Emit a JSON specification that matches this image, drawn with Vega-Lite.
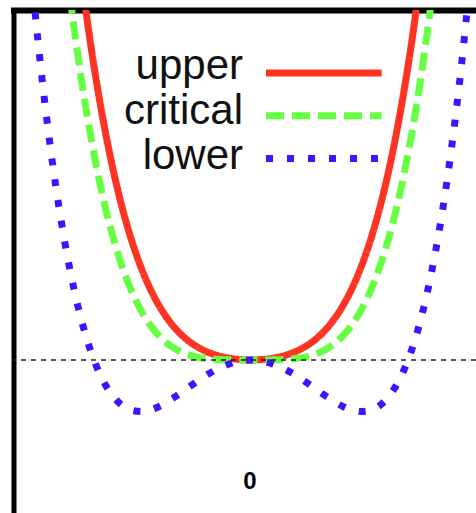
{
  "$schema": "https://vega.github.io/schema/vega-lite/v6.json",
  "width": 462.5,
  "height": 500,
  "autosize": {"type": "none"},
  "padding": {"left": 13.5, "top": 10, "right": 0, "bottom": 3},
  "background": "white",
  "config": {"view": {"stroke": null}, "font": "Liberation Sans"},
  "datasets": {
    "curves": [
      {"series": "upper", "x": -1.7, "V": 3.860},
      {"series": "upper", "x": -1.6, "V": 3.133},
      {"series": "upper", "x": -1.5, "V": 2.517},
      {"series": "upper", "x": -1.4, "V": 2.000},
      {"series": "upper", "x": -1.3, "V": 1.570},
      {"series": "upper", "x": -1.2, "V": 1.216},
      {"series": "upper", "x": -1.1, "V": 0.927},
      {"series": "upper", "x": -1.0, "V": 0.695},
      {"series": "upper", "x": -0.9, "V": 0.511},
      {"series": "upper", "x": -0.8, "V": 0.367},
      {"series": "upper", "x": -0.7, "V": 0.256},
      {"series": "upper", "x": -0.6, "V": 0.172},
      {"series": "upper", "x": -0.5, "V": 0.110},
      {"series": "upper", "x": -0.4, "V": 0.066},
      {"series": "upper", "x": -0.3, "V": 0.035},
      {"series": "upper", "x": -0.2, "V": 0.015},
      {"series": "upper", "x": -0.1, "V": 0.004},
      {"series": "upper", "x": 0.0, "V": 0},
      {"series": "upper", "x": 0.1, "V": 0.004},
      {"series": "upper", "x": 0.2, "V": 0.015},
      {"series": "upper", "x": 0.3, "V": 0.035},
      {"series": "upper", "x": 0.4, "V": 0.066},
      {"series": "upper", "x": 0.5, "V": 0.110},
      {"series": "upper", "x": 0.6, "V": 0.172},
      {"series": "upper", "x": 0.7, "V": 0.256},
      {"series": "upper", "x": 0.8, "V": 0.367},
      {"series": "upper", "x": 0.9, "V": 0.511},
      {"series": "upper", "x": 1.0, "V": 0.695},
      {"series": "upper", "x": 1.1, "V": 0.927},
      {"series": "upper", "x": 1.2, "V": 1.216},
      {"series": "upper", "x": 1.3, "V": 1.570},
      {"series": "upper", "x": 1.4, "V": 2.000},
      {"series": "upper", "x": 1.5, "V": 2.517},
      {"series": "upper", "x": 1.6, "V": 3.133},
      {"series": "upper", "x": 1.7, "V": 3.860},
      {"series": "critical", "x": -1.9, "V": 4.418},
      {"series": "critical", "x": -1.8, "V": 3.559},
      {"series": "critical", "x": -1.7, "V": 2.831},
      {"series": "critical", "x": -1.6, "V": 2.222},
      {"series": "critical", "x": -1.5, "V": 1.716},
      {"series": "critical", "x": -1.4, "V": 1.302},
      {"series": "critical", "x": -1.3, "V": 0.968},
      {"series": "critical", "x": -1.2, "V": 0.703},
      {"series": "critical", "x": -1.1, "V": 0.496},
      {"series": "critical", "x": -1.0, "V": 0.339},
      {"series": "critical", "x": -0.9, "V": 0.222},
      {"series": "critical", "x": -0.8, "V": 0.139},
      {"series": "critical", "x": -0.7, "V": 0.081},
      {"series": "critical", "x": -0.6, "V": 0.044},
      {"series": "critical", "x": -0.5, "V": 0.021},
      {"series": "critical", "x": -0.4, "V": 0.009},
      {"series": "critical", "x": -0.3, "V": 0.003},
      {"series": "critical", "x": -0.2, "V": 0.001},
      {"series": "critical", "x": -0.1, "V": 0},
      {"series": "critical", "x": 0.0, "V": 0},
      {"series": "critical", "x": 0.1, "V": 0},
      {"series": "critical", "x": 0.2, "V": 0.001},
      {"series": "critical", "x": 0.3, "V": 0.003},
      {"series": "critical", "x": 0.4, "V": 0.009},
      {"series": "critical", "x": 0.5, "V": 0.021},
      {"series": "critical", "x": 0.6, "V": 0.044},
      {"series": "critical", "x": 0.7, "V": 0.081},
      {"series": "critical", "x": 0.8, "V": 0.139},
      {"series": "critical", "x": 0.9, "V": 0.222},
      {"series": "critical", "x": 1.0, "V": 0.339},
      {"series": "critical", "x": 1.1, "V": 0.496},
      {"series": "critical", "x": 1.2, "V": 0.703},
      {"series": "critical", "x": 1.3, "V": 0.968},
      {"series": "critical", "x": 1.4, "V": 1.302},
      {"series": "critical", "x": 1.5, "V": 1.716},
      {"series": "critical", "x": 1.6, "V": 2.222},
      {"series": "critical", "x": 1.7, "V": 2.831},
      {"series": "critical", "x": 1.8, "V": 3.559},
      {"series": "critical", "x": 1.9, "V": 4.418},
      {"series": "lower", "x": -2.2, "V": 3.895},
      {"series": "lower", "x": -2.1, "V": 2.906},
      {"series": "lower", "x": -2.0, "V": 2.080},
      {"series": "lower", "x": -1.9, "V": 1.400},
      {"series": "lower", "x": -1.8, "V": 0.850},
      {"series": "lower", "x": -1.7, "V": 0.415},
      {"series": "lower", "x": -1.6, "V": 0.082},
      {"series": "lower", "x": -1.5, "V": -0.165},
      {"series": "lower", "x": -1.4, "V": -0.336},
      {"series": "lower", "x": -1.3, "V": -0.445},
      {"series": "lower", "x": -1.2, "V": -0.501},
      {"series": "lower", "x": -1.1, "V": -0.515},
      {"series": "lower", "x": -1.0, "V": -0.497},
      {"series": "lower", "x": -0.9, "V": -0.455},
      {"series": "lower", "x": -0.8, "V": -0.396},
      {"series": "lower", "x": -0.7, "V": -0.328},
      {"series": "lower", "x": -0.6, "V": -0.257},
      {"series": "lower", "x": -0.5, "V": -0.188},
      {"series": "lower", "x": -0.4, "V": -0.125},
      {"series": "lower", "x": -0.3, "V": -0.072},
      {"series": "lower", "x": -0.2, "V": -0.033},
      {"series": "lower", "x": -0.1, "V": -0.008},
      {"series": "lower", "x": 0.0, "V": 0},
      {"series": "lower", "x": 0.1, "V": -0.008},
      {"series": "lower", "x": 0.2, "V": -0.033},
      {"series": "lower", "x": 0.3, "V": -0.072},
      {"series": "lower", "x": 0.4, "V": -0.125},
      {"series": "lower", "x": 0.5, "V": -0.188},
      {"series": "lower", "x": 0.6, "V": -0.257},
      {"series": "lower", "x": 0.7, "V": -0.328},
      {"series": "lower", "x": 0.8, "V": -0.396},
      {"series": "lower", "x": 0.9, "V": -0.455},
      {"series": "lower", "x": 1.0, "V": -0.497},
      {"series": "lower", "x": 1.1, "V": -0.515},
      {"series": "lower", "x": 1.2, "V": -0.501},
      {"series": "lower", "x": 1.3, "V": -0.445},
      {"series": "lower", "x": 1.4, "V": -0.336},
      {"series": "lower", "x": 1.5, "V": -0.165},
      {"series": "lower", "x": 1.6, "V": 0.082},
      {"series": "lower", "x": 1.7, "V": 0.415},
      {"series": "lower", "x": 1.8, "V": 0.850},
      {"series": "lower", "x": 1.9, "V": 1.400},
      {"series": "lower", "x": 2.0, "V": 2.080},
      {"series": "lower", "x": 2.1, "V": 2.906},
      {"series": "lower", "x": 2.2, "V": 3.895}
    ],
    "legend": [
      {"series": "upper"},
      {"series": "critical"},
      {"series": "lower"}
    ],
    "single": [{"label": "0"}]
  },
  "layer": [
    {
      "layer": [
        {
          "data": {"name": "curves"},
          "mark": {"type": "line", "clip": true, "interpolate": "monotone", "strokeWidth": 7, "strokeCap": "butt"},
          "encoding": {
            "x": {
              "field": "x", "type": "quantitative",
              "scale": {"domain": [-2.375, 2.25], "nice": false, "zero": false},
              "axis": {"orient": "bottom", "domain": true, "domainColor": "black", "domainWidth": 5, "domainCap": "square", "ticks": false, "labels": false, "grid": false, "title": null}
            },
            "y": {
              "field": "V", "type": "quantitative",
              "scale": {"domain": [-1.5, 3.5], "nice": false, "zero": false},
              "axis": {"orient": "left", "domain": true, "domainColor": "black", "domainWidth": 5, "domainCap": "square", "ticks": false, "labels": false, "grid": false, "title": null}
            },
            "color": {
              "field": "series", "type": "nominal",
              "scale": {"domain": ["upper", "critical", "lower"], "range": ["#ff3322", "#66ff44", "#4411ff"]},
              "legend": null
            },
            "strokeDash": {
              "field": "series", "type": "nominal",
              "scale": {"domain": ["upper", "critical", "lower"], "range": [[1, 0], [18, 8], [7, 14]]},
              "legend": null
            }
          }
        },
        {
          "data": {"name": "single"},
          "mark": {"type": "rule", "color": "#222222", "strokeWidth": 1.5, "strokeDash": [5, 5]},
          "encoding": {"y": {"datum": 0}}
        },
        {
          "data": {"name": "single"},
          "mark": {"type": "text", "fontSize": 24, "fontWeight": "bold", "font": "Liberation Sans", "align": "center", "baseline": "alphabetic", "color": "black"},
          "encoding": {
            "x": {"datum": -0.01, "axis": null},
            "y": {"datum": -1.285},
            "text": {"field": "label"}
          }
        }
      ]
    },
    {
      "data": {"name": "legend"},
      "mark": {"type": "rule", "strokeWidth": 7, "strokeCap": "butt"},
      "encoding": {
        "x": {
          "datum": 0.15, "type": "quantitative",
          "axis": {"orient": "top", "domain": true, "domainColor": "black", "domainWidth": 6, "domainCap": "square", "ticks": false, "labels": false, "grid": false, "title": null}
        },
        "x2": {"datum": 1.307},
        "y": {
          "field": "series", "type": "nominal",
          "scale": {"type": "point", "domain": ["upper", "critical", "lower"], "range": [63, 148.5], "padding": 0},
          "axis": null
        },
        "color": {"field": "series", "type": "nominal", "legend": null},
        "strokeDash": {"field": "series", "type": "nominal", "legend": null}
      }
    },
    {
      "data": {"name": "legend"},
      "mark": {"type": "text", "align": "right", "baseline": "alphabetic", "fontSize": 42, "font": "Liberation Sans", "color": "#111111"},
      "encoding": {
        "x": {"datum": -0.08, "type": "quantitative", "axis": null},
        "y": {
          "field": "series", "type": "nominal",
          "scale": {"type": "point", "domain": ["upper", "critical", "lower"], "range": [69, 159], "padding": 0},
          "axis": null
        },
        "text": {"field": "series"}
      }
    }
  ],
  "resolve": {"scale": {"y": "independent"}, "axis": {"x": "independent", "y": "independent"}}
}
